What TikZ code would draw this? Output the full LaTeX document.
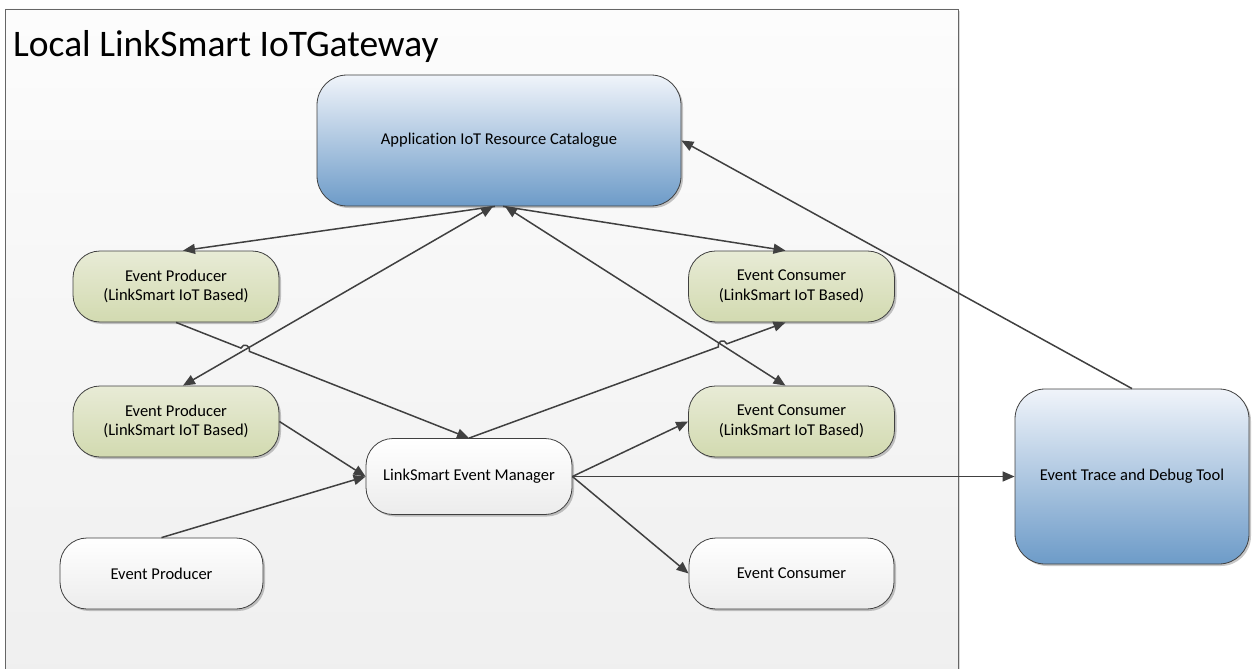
\documentclass[tikz,border=0pt]{standalone}
\usepackage{fontspec}
\setmainfont{Carlito}[Ligatures=NoCommon]
\usetikzlibrary{arrows.meta,shadows,calc,intersections}
\definecolor{linec}{HTML}{404040}
\definecolor{blueTop}{HTML}{F0F4FA}
\definecolor{blueBot}{HTML}{6D9BC8}
\definecolor{greenTop}{HTML}{E8EBD6}
\definecolor{greenBot}{HTML}{D2DAB0}
\definecolor{whiteBot}{HTML}{ECECEC}
\definecolor{frameTop}{HTML}{FCFCFC}
\definecolor{frameBot}{HTML}{EFEFEF}
\begin{document}
\begin{tikzpicture}[x=1pt,y=-1pt,
  box/.style={draw=linec, line width=0.8pt, rounded corners=27pt, align=center,
    font=\fontsize{16.5}{19.5}\selectfont, inner sep=0pt,
    drop shadow={shadow xshift=2pt,shadow yshift=-2pt,opacity=0.22,fill=black}},
  bluebox/.style={box, top color=blueTop, bottom color=blueBot, rounded corners=30pt},
  greenbox/.style={box, top color=greenTop, bottom color=greenBot, minimum width=206pt, minimum height=71pt},
  whitebox/.style={box, top color=white, bottom color=whiteBot, minimum height=71pt},
  conn/.style={draw=linec, line width=1.5pt, -{Triangle[length=12pt,width=10pt]}},
  dconn/.style={draw=linec, line width=1.5pt, {Triangle[length=12pt,width=10pt]}-{Triangle[length=12pt,width=10pt]}}
]
\useasboundingbox (0,0) rectangle (1254,669);
% frame
\path[draw=gray!80!black, line width=0.8pt, top color=frameTop, bottom color=frameBot,
  drop shadow={shadow xshift=2pt,shadow yshift=-2pt,opacity=0.15,fill=black}]
  (5,9) rectangle (958,690);
\node[anchor=base west, inner sep=0pt, font=\fontsize{37.5}{42}\selectfont] (title) at (13,57) {Local LinkSmart IoTGateway};

% nodes
\node[bluebox, minimum width=364pt, minimum height=131pt] (cat) at (499,140.5) {Application IoT Resource Catalogue};
\node[greenbox] (ep1) at (176,286.5) {Event Producer\\(LinkSmart IoT Based)};
\node[greenbox] (ep2) at (176,421.5) {Event Producer\\(LinkSmart IoT Based)};
\node[greenbox] (ec1) at (791.5,286.5) {Event Consumer\\(LinkSmart IoT Based)};
\node[greenbox] (ec2) at (791.5,421.5) {Event Consumer\\(LinkSmart IoT Based)};
\node[whitebox, minimum width=206pt, minimum height=76pt] (em) at (469,476.5) {LinkSmart Event Manager};
\node[whitebox, minimum width=203pt] (epw) at (161.5,573.5) {Event Producer};
\node[whitebox, minimum width=205pt] (ecw) at (791.5,573.5) {Event Consumer};
\node[bluebox, minimum width=234pt, minimum height=175pt] (trace) at (1132,476.5) {Event Trace and Debug Tool};

% anchor points
\coordinate (c1) at ($(cat.south)+(-4,0)$);
\coordinate (c2) at ($(cat.south)+(-6,0)$);
\coordinate (c3) at ($(cat.south)+(6,0)$);
\coordinate (c4) at ($(cat.south)+(4,0)$);
\coordinate (ep1t) at ($(ep1.north)+(7,0)$);
\coordinate (ep2t) at ($(ep2.north)+(7,0)$);
\coordinate (ec1t) at ($(ec1.north)+(-6,0)$);
\coordinate (ec2t) at ($(ec2.north)+(-6,0)$);
\coordinate (ec1b) at ($(ec1.south)+(-6,0)$);

% intersections for hops
\path[name path=pa] (ep1.south) -- (em.north);
\path[name path=pb] (c2) -- (ep2t);
\path[name path=pc] (em.north) -- (ec1b);
\path[name path=pd] (c3) -- (ec2t);
\path[name intersections={of=pa and pb, by=X1}];
\path[name intersections={of=pc and pd, by=X2}];
\coordinate (h1a) at ($(X1)!4.5pt!(ep1.south)$);
\coordinate (h1b) at ($(X1)!4.5pt!(em.north)$);
\coordinate (h2a) at ($(X2)!4.5pt!(em.north)$);
\coordinate (h2b) at ($(X2)!4.5pt!(ec1b)$);

% connectors
\draw[conn] (c1) -- (ep1t);
\draw[dconn] (ep2t) -- (c2);
\draw[dconn] (ec2t) -- (c3);
\draw[conn] (c4) -- (ec1t);
\draw[conn] (ep1.south) -- (h1a) .. controls ($(h1a)!6pt!90:(X1)$) and ($(h1b)!6pt!-90:(X1)$) .. (h1b) -- (em.north);
\draw[conn] (em.north) -- (h2a) .. controls ($(h2a)!6pt!90:(X2)$) and ($(h2b)!6pt!-90:(X2)$) .. (h2b) -- (ec1b);
\draw[conn] (ep2.east) -- (em.west);
\draw[conn] (epw.north) -- (em.west);
\draw[conn] (em.east) -- (ec2.west);
\draw[conn] (em.east) -- (ecw.west);
\draw[conn] (em.east) -- (em.east -| trace.west);
\draw[conn] (trace.north) -- (cat.east);
\end{tikzpicture}
\end{document}
